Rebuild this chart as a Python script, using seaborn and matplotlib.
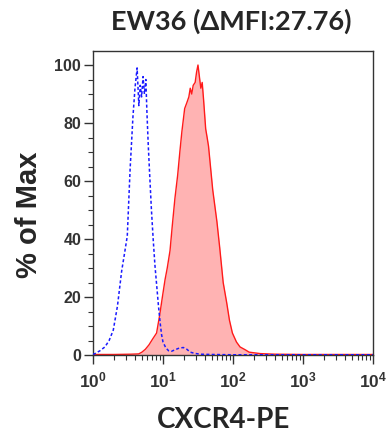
import numpy as np
import pandas as pd
import matplotlib
matplotlib.use("Agg")
import matplotlib.pyplot as plt
import seaborn as sns
from matplotlib.ticker import FixedLocator, MultipleLocator, LogLocator, FuncFormatter, NullFormatter

# ---- data (fluorescence intensity, % of max) ----
iso_x = [1.0, 1.07, 1.26, 1.48, 1.70, 1.95, 2.24, 2.57, 2.82, 3.09, 3.39, 3.72, 3.98, 4.27,
         4.52, 4.73, 4.95, 5.19, 5.43, 5.69, 5.89, 6.17, 6.46, 6.84, 7.24, 7.67, 8.13, 8.61,
         9.12, 9.55, 10.0, 10.96, 12.0, 13.2, 14.8, 17.0, 19.5, 21.9, 24.5, 28.2, 33.9, 50,
         100, 316, 1000, 3162, 10000]
iso_y = [0.3, 0.5, 1.5, 2.8, 5, 8.6, 17, 29, 35, 41, 64, 82, 92, 99,
         86, 93, 89, 96, 90, 95, 84, 72, 62, 50, 40, 31, 24, 17,
         11, 7, 4.5, 2.5, 1.5, 1.3, 1.8, 2.4, 2.6, 2.0, 1.0, 0.6, 0.3, 0.2,
         0.1, 0.1, 0.1, 0.1, 0.1]

cx_x = [1.0, 2.0, 3.5, 4.5, 5.0, 5.6, 6.3, 7.1, 8.1, 9.0, 9.8, 10.7, 11.5, 12.6, 13.5, 14.8,
        16.2, 17.4, 18.6, 20.4, 21.9, 23.4, 24.5, 25.7, 27.0, 28.8, 30.2, 31.6, 33.1, 34.7,
        36.3, 38.0, 40.7, 42.7, 44.7, 46.8, 51.3, 58.9, 64.6, 72.4, 81.3, 89, 98, 112, 126,
        150, 170, 245, 400, 1000, 10000]
cx_y = [0.2, 0.2, 0.3, 0.4, 1.0, 2.0, 3.5, 5.5, 7.6, 14, 20, 26, 30, 36, 44, 54,
        62, 70, 77, 85, 87, 89, 92, 90, 93, 94, 97.6, 100, 96, 92,
        94, 88, 78, 75, 72, 67, 57, 46, 37, 25, 18, 12, 7.6, 4.5, 2.8,
        1.8, 1.0, 0.5, 0.3, 0.2, 0.2]

title = "EW36 (ΔMFI:27.76)"
xlabel = "CXCR4-PE"
ylabel = "% of Max"
y_ticks = [0, 20, 40, 60, 80, 100]
x_ticks = [1, 10, 100, 1000, 10000]

iso = pd.DataFrame({"x": iso_x, "y": iso_y})
cx = pd.DataFrame({"x": cx_x, "y": cx_y})

sns.set_style("white")
plt.rcParams["mathtext.fontset"] = "custom"
plt.rcParams["mathtext.rm"] = "Liberation Sans:bold"
plt.rcParams["mathtext.bf"] = "Liberation Sans:bold"

fig = plt.figure(figsize=(3.89, 4.33), dpi=100)
ax = fig.add_axes([0.239, 0.180, 0.720, 0.702])

ax.set_xscale("log")
ax.fill_between(cx["x"], 0, cx["y"], color="#ffb3b3", linewidth=0, zorder=1)
sns.lineplot(data=cx, x="x", y="y", ax=ax, color="#ff1a1a", linewidth=1.0, zorder=2, sort=False)
sns.lineplot(data=iso, x="x", y="y", ax=ax, color="#1a1aff", linewidth=1.1, zorder=3,
             linestyle=(0, (2.0, 1.5)), sort=False)

ax.set_xlim(1, 10000)
ax.set_ylim(0, 104.8)

ax.xaxis.set_major_locator(FixedLocator(x_ticks))
ax.xaxis.set_minor_locator(LogLocator(base=10, subs=np.arange(2, 10)))
ax.xaxis.set_minor_formatter(NullFormatter())
ax.xaxis.set_major_formatter(FuncFormatter(lambda v, p: r"$\mathbf{10^{%d}}$" % int(round(np.log10(v)))))
ax.yaxis.set_major_locator(FixedLocator(y_ticks))
ax.yaxis.set_minor_locator(MultipleLocator(5))

ax.tick_params(axis="both", which="major", direction="out", length=6.5, width=1.0,
               color="#333333", bottom=True, left=True)
ax.tick_params(axis="both", which="minor", direction="out", length=3.5, width=0.8,
               color="#333333", bottom=True, left=True)
ax.tick_params(axis="y", which="major", labelsize=11.5, pad=2)
ax.tick_params(axis="x", which="major", labelsize=12.5, pad=5)
for lab in ax.get_yticklabels():
    lab.set_fontfamily("Liberation Sans")
    lab.set_fontweight("bold")
    lab.set_color("#333333")
for lab in ax.get_xticklabels():
    lab.set_color("#333333")

for s in ax.spines.values():
    s.set_color("#333333")
    s.set_linewidth(1.0)

ax.set_xlabel(xlabel, fontfamily="Lato", fontweight="bold", fontsize=20)
ax.xaxis.set_label_coords(0.468, -0.172)
ax.set_ylabel(ylabel, fontfamily="Liberation Sans", fontweight="bold", fontsize=21)
ax.yaxis.set_label_coords(-0.18, 0.46)
fig.text(0.595, 0.951, title, ha="center", va="center", fontfamily="Lato",
         fontweight="bold", fontsize=19.5)

fig.savefig("out.png", dpi=100)
